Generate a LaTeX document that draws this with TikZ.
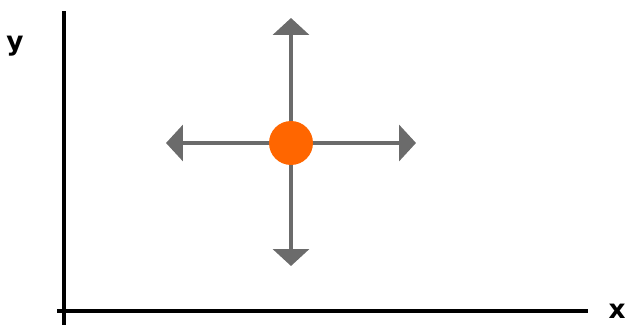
\documentclass[tikz,border=0pt]{standalone}
\usepackage{fontspec}
\setsansfont{DejaVu Sans}
\usetikzlibrary{arrows.meta, backgrounds}
\definecolor{dotorange}{HTML}{FF6600}
\definecolor{arrowgray}{HTML}{6B6B6B}

\begin{document}
\begin{tikzpicture}[
  x=0.02cm, y=-0.02cm,
  axis/.style={line width=2.6pt, black},
  move/.style={line width=2.2pt, arrowgray,
    -{Triangle[length=0.34cm, width=0.72cm]}},
  ball/.style={circle, fill=dotorange, inner sep=0pt, minimum size=0.88cm},
  lbl/.style={font=\sffamily\bfseries\fontsize{15}{15}\selectfont, inner sep=0pt}
]
\useasboundingbox (0,0) rectangle (626,327);

% axes
\coordinate (ytop) at (64,11);
\coordinate (ybot) at (64,325);
\coordinate (xleft) at (57,311);
\coordinate (xright) at (588,311);
\draw[axis] (ybot) -- (ytop);
\draw[axis] (xleft) -- (xright);
\node[lbl] (ylabel) at (15,46) {y};
\node[lbl] (xlabel) at (617,311) {x};

% moving point
\node[ball] (dot) at (291,143) {};
\coordinate (up) at (291,18);
\coordinate (down) at (291,266);
\coordinate (left) at (166,143);
\coordinate (right) at (416,143);

\begin{scope}[on background layer]
\draw[move] (dot.center) -- (up);
\draw[move] (dot.center) -- (down);
\draw[move] (dot.center) -- (left);
\draw[move] (dot.center) -- (right);
\end{scope}

\end{tikzpicture}
\end{document}
